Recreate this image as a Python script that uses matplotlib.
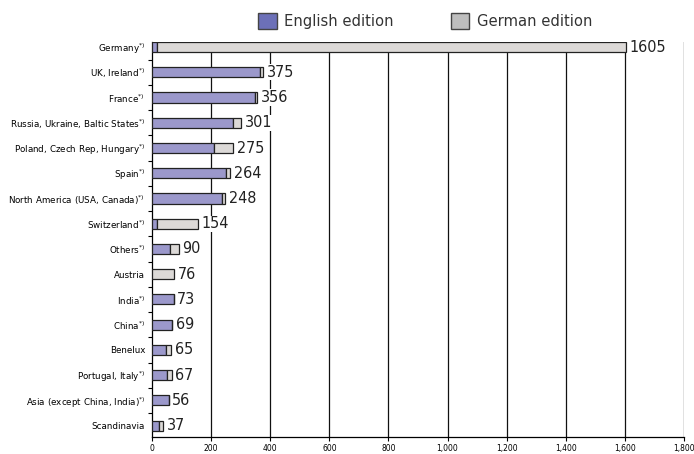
import numpy as np
import matplotlib.pyplot as plt
from matplotlib.patches import Patch

countries = ['Germany', 'UK, Ireland', 'France', 'Russia, Ukraine, Baltic States',
             'Poland, Czech Rep, Hungary', 'Spain', 'North America (USA, Canada)',
             'Switzerland', 'Others', 'Austria', 'India', 'China', 'Benelux',
             'Portugal, Italy', 'Asia (except China, India)', 'Scandinavia']
footnote = [True, True, True, True, True, True, True, True, True, False,
            True, True, False, True, True, False]
english = [18, 364, 348, 273, 210, 251, 237, 18, 60, 0, 73, 69, 47, 52, 56, 23]
german = [1587, 11, 8, 28, 65, 13, 11, 136, 30, 76, 0, 0, 18, 15, 0, 14]
totals = [1605, 375, 356, 301, 275, 264, 248, 154, 90, 76, 73, 69, 65, 67, 56, 37]
xticks = [0, 200, 400, 600, 800, 1000, 1200, 1400, 1600, 1800]
xticklabels = ['0', '200', '400', '600', '800', '1,000', '1,200', '1,400', '1,600', '1,800']

labels = [c + (r'$^{*)}$' if f else '') for c, f in zip(countries, footnote)]
y = np.arange(len(countries))

fig = plt.figure(figsize=(6.94, 4.54), dpi=100)
ax = fig.add_axes([152/694, 1-437/454, 532/694, 395/454])

for xv in xticks[1:]:
    ax.axvline(xv, color='#111111', lw=0.9, zorder=1)

ax.barh(y, english, height=0.4, color='#9b98cb', edgecolor='#222222', lw=0.9, zorder=3)
ax.barh(y, german, left=english, height=0.4, color='#dcd9d7', edgecolor='#222222', lw=0.9, zorder=3)

for yi, t in zip(y, totals):
    ax.text(t + 12, yi, str(t), va='center', ha='left', fontsize=11.5,
            family='DejaVu Sans', stretch='condensed', color='#222222',
            bbox=dict(facecolor='white', edgecolor='none', pad=0.5), zorder=4)

ax.set_xlim(0, 1800)
ax.set_ylim(15.45, -0.2)
ax.set_xticks(xticks)
ax.set_xticklabels(xticklabels, fontsize=5.5)
ax.set_yticks(y)
ax.set_yticklabels(labels, fontsize=6.3)
ax.set_yticks(np.arange(0.5, 15.5, 1), minor=True)
ax.tick_params(axis='y', which='major', length=0, pad=5)
ax.tick_params(axis='y', which='minor', length=3, width=0.8)
ax.tick_params(axis='x', length=3, width=0.8, pad=2)
for s in ['top', 'right']:
    ax.spines[s].set_visible(False)
ax.spines['left'].set_linewidth(0.9)
ax.spines['bottom'].set_linewidth(0.9)

handles = [Patch(facecolor='#6c70b8', edgecolor='#444444', label='English edition'),
           Patch(facecolor='#bebebe', edgecolor='#444444', label='German edition')]
fig.legend(handles=handles, loc='upper left', bbox_to_anchor=(245/694, 1.0), ncol=2,
           frameon=False, fontsize=10.6, handlelength=1.25, handleheight=1.25,
           columnspacing=3.9, handletextpad=0.5, labelcolor='#333333')

fig.savefig('out.png', dpi=100)
